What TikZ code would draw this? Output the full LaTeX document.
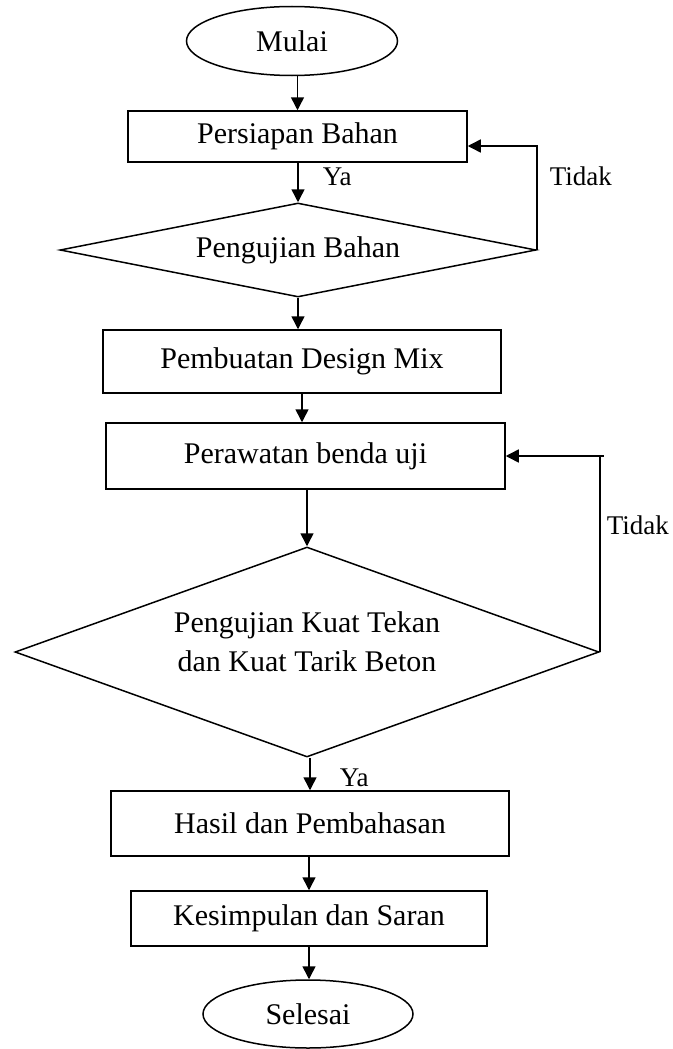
\documentclass[tikz,border=0pt]{standalone}
\usepackage{fontspec}
\setmainfont{Liberation Serif}
\usepackage{tikz}
\usetikzlibrary{arrows.meta,positioning,calc,shapes.geometric}
\tikzstyle{proses}=[draw,rectangle,inner sep=0pt,font=\fontsize{30}{39}\selectfont]
\tikzstyle{terminal}=[draw,ellipse,inner sep=0pt,font=\fontsize{30}{39}\selectfont]
\tikzstyle{keputusan}=[draw,diamond,inner sep=0pt,align=center,font=\fontsize{30}{39}\selectfont]
\tikzstyle{ket}=[anchor=west,inner sep=0pt,font=\fontsize{27}{32}\selectfont]
\tikzstyle{panah}=[-{Triangle[length=13pt,width=13pt]}]

\begin{document}
\begin{tikzpicture}[x=1pt,y=-1pt,line width=1.5pt]
\useasboundingbox (0,0) rectangle (672,1049);

\node [terminal,minimum width=211pt,minimum height=69pt] (mulai) at (292,41) {Mulai};
\node [proses,minimum width=339pt,minimum height=51pt] (persiapan) at (297.5,136.5) {Persiapan Bahan};
\node [keputusan,shape aspect=5,minimum width=476pt,minimum height=94pt] (uji1) at (298,250) {Pengujian Bahan};
\node [proses,minimum width=398pt,minimum height=63pt] (pembuatan) at (302,361.5) {Pembuatan Design Mix};
\node [proses,minimum width=399pt,minimum height=66pt] (perawatan) at (305.5,456) {Perawatan benda uji};
\node [keputusan,shape aspect=2.8,minimum width=584pt,minimum height=210pt] (uji2) at (307,652)
  {Pengujian Kuat Tekan\\dan Kuat Tarik Beton\rule[-20pt]{0pt}{0pt}};
\node [proses,minimum width=398pt,minimum height=65pt] (hasil) at (310,823.5) {Hasil dan Pembahasan};
\node [proses,minimum width=356pt,minimum height=55pt] (kesimpulan) at (309,918.5) {Kesimpulan dan Saran};
\node [terminal,minimum width=210pt,minimum height=68pt] (selesai) at (308,1014) {Selesai};

% alur utama
\draw[panah] (persiapan.north |- mulai.south) -- (persiapan.north);
\draw[panah] (uji1.north |- persiapan.south) -- (uji1.north);
\draw[panah] (uji1.south) -- (uji1.south |- pembuatan.north);
\draw[panah] (pembuatan.south) -- (pembuatan.south |- perawatan.north);
\draw[panah] (uji2.north |- perawatan.south) -- (uji2.north);
\draw[panah] (hasil.north |- uji2.south) -- (hasil.north);
\draw[panah] (kesimpulan.north |- hasil.south) -- (kesimpulan.north);
\draw[panah] (kesimpulan.south) -- (kesimpulan.south |- selesai.north);

% kembali jika tidak
\coordinate (balik1) at ([yshift=-9.5pt]persiapan.east);
\draw[panah] (uji1.east) |- (balik1);
\coordinate (sudut2) at (uji2.east |- perawatan.east);
\draw (uji2.east) -- (sudut2);
\draw[panah] ([xshift=4pt]sudut2) -- (perawatan.east);

\node[ket] (ya1) at (322,177) {Ya};
\node[ket] (tidak1) at (549,176) {Tidak};
\node[ket] (tidak2) at (606,525) {Tidak};
\node[ket] (ya2) at (339,778) {Ya};
\end{tikzpicture}
\end{document}
